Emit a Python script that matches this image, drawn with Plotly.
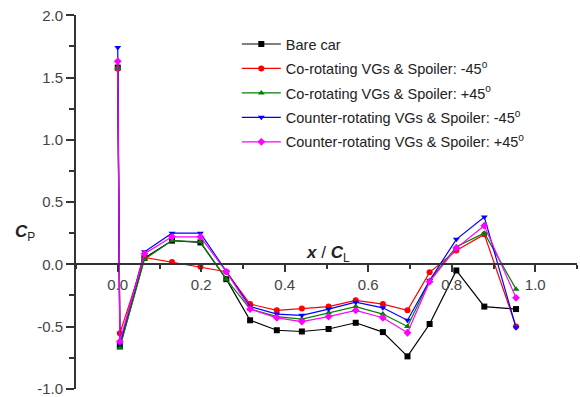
import plotly.graph_objects as go

# Chordwise stations x / C_L
x_pos = [0.0, 0.005, 0.064, 0.13, 0.198, 0.26, 0.317, 0.381, 0.441, 0.505,
         0.57, 0.635, 0.694, 0.747, 0.811, 0.878, 0.954]

# Pressure coefficient C_P for each configuration
cp_bare = [1.58, -0.66, 0.05, 0.19, 0.175, -0.12, -0.45, -0.53, -0.54, -0.52,
           -0.47, -0.545, -0.74, -0.48, -0.05, -0.34, -0.36]
cp_co_m45 = [1.57, -0.555, 0.055, 0.018, -0.02, -0.06, -0.32, -0.37, -0.356, -0.34,
             -0.29, -0.32, -0.37, -0.065, 0.11, 0.24, -0.50]
cp_co_p45 = [1.58, -0.67, 0.04, 0.19, 0.18, -0.12, -0.36, -0.42, -0.44, -0.39,
             -0.34, -0.40, -0.50, -0.13, 0.14, 0.25, -0.20]
cp_counter_m45 = [1.74, -0.64, 0.10, 0.25, 0.25, -0.06, -0.34, -0.40, -0.41, -0.36,
                  -0.305, -0.35, -0.45, -0.13, 0.20, 0.38, -0.51]
cp_counter_p45 = [1.63, -0.62, 0.085, 0.22, 0.22, -0.06, -0.36, -0.43, -0.46, -0.42,
                  -0.37, -0.43, -0.55, -0.14, 0.13, 0.31, -0.27]

series_names = [
    "Bare car",
    "Co-rotating VGs & Spoiler: -45<sup>o</sup>",
    "Co-rotating VGs & Spoiler: +45<sup>o</sup>",
    "Counter-rotating VGs & Spoiler: -45<sup>o</sup>",
    "Counter-rotating VGs & Spoiler: +45<sup>o</sup>",
]
series_values = [cp_bare, cp_co_m45, cp_co_p45, cp_counter_m45, cp_counter_p45]
colors = ["#000000", "#ff0000", "#008000", "#0000ff", "#ff00ff"]
symbols = ["square", "circle", "triangle-up", "triangle-down", "diamond"]

y_ticks = [-1.0, -0.5, 0.0, 0.5, 1.0, 1.5, 2.0]
x_ticks = [0.0, 0.2, 0.4, 0.6, 0.8, 1.0]

FONT = "Liberation Sans, Arial, sans-serif"

fig = go.Figure()
for i, (name, vals, col, sym) in enumerate(zip(series_names, series_values, colors, symbols)):
    fig.add_trace(go.Scatter(
        x=x_pos, y=vals, name=name, mode="lines+markers",
        line=dict(color=col, width=1.2),
        marker=dict(symbol=sym, size=6, color=col),
        legendgroup=f"g{i}",
        cliponaxis=False,
    ))

axis_col = "#333333"
fig.update_layout(
    width=580, height=397,
    margin=dict(l=76, r=3, t=15, b=8),
    plot_bgcolor="white", paper_bgcolor="white",
    font=dict(family=FONT, color=axis_col),
    showlegend=True,
    legend=dict(
        x=0.321, y=0.965, xanchor="left", yanchor="top",
        bgcolor="rgba(0,0,0,0)", borderwidth=0,
        font=dict(family=FONT, size=14.5, color="#222222"),
        traceorder="grouped", tracegroupgap=2.6, itemwidth=39,
    ),
    xaxis=dict(
        range=[-0.1, 1.1], anchor="free", position=1/3, automargin=False,
        showline=True, linecolor=axis_col, linewidth=2,
        ticks="outside", ticklen=7, tickwidth=1.5, tickcolor=axis_col,
        tickmode="array", tickvals=x_ticks, ticktext=[f"{v:.1f}" for v in x_ticks],
        tickfont=dict(size=15, color="#444444"),
        minor=dict(dtick=0.1, tick0=0, ticks="outside", ticklen=4, tickcolor=axis_col, tickwidth=1.5),
        showgrid=False, zeroline=False,
    ),
    yaxis=dict(
        range=[-1.002, 2.002], automargin=False,
        showline=True, linecolor=axis_col, linewidth=2,
        ticks="outside", ticklen=8, tickwidth=1.5, tickcolor=axis_col,
        tickmode="array", tickvals=y_ticks, ticktext=[f"{v:.1f}" for v in y_ticks],
        tickfont=dict(size=15, color="#444444"),
        minor=dict(dtick=0.25, tick0=0, ticks="outside", ticklen=5, tickcolor=axis_col, tickwidth=1.5),
        showgrid=False, zeroline=False,
    ),
    annotations=[
        dict(text="<b><i>C</i></b><sub>P</sub>", xref="paper", yref="y",
             x=-0.126, y=0.25, xanchor="left", yanchor="middle", showarrow=False,
             font=dict(family=FONT, size=17, color="#222222")),
        dict(text="<b><i>x</i></b> / <b><i>C</i></b><sub>L</sub>", xref="x", yref="y",
             x=0.504, y=0.085, xanchor="center", yanchor="middle", showarrow=False,
             font=dict(family=FONT, size=17, color="#222222")),
    ],
)

fig.write_html("out.html")
